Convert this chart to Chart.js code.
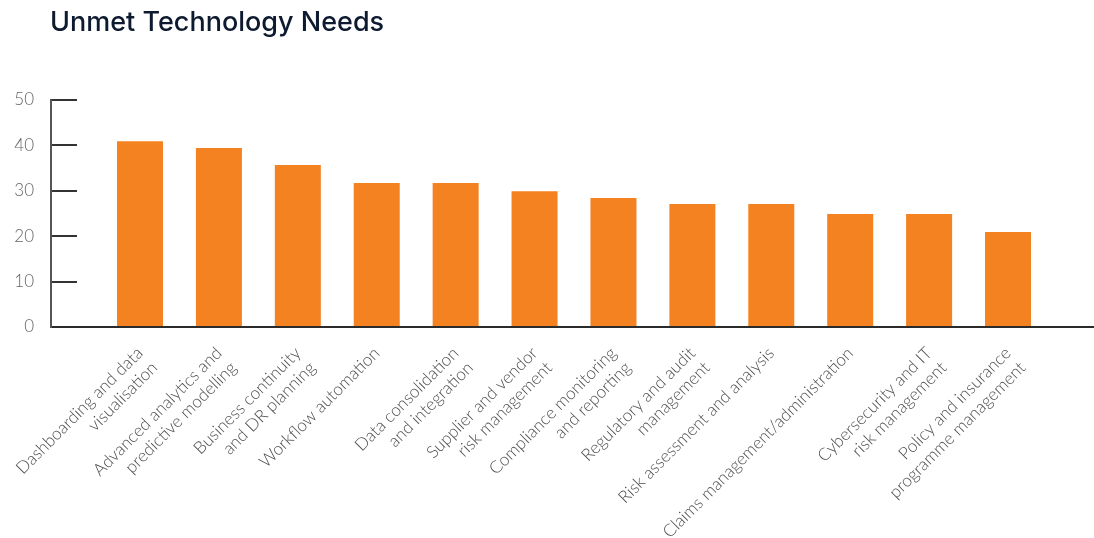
<!DOCTYPE html>
<html>
<head>
<meta charset="utf-8">
<title>Unmet Technology Needs</title>
<script src="https://cdn.jsdelivr.net/npm/chart.js@4.4.1/dist/chart.umd.min.js"></script>
<style>
  html, body { margin: 0; padding: 0; background: #ffffff; }
  #wrap { width: 1094px; height: 538px; position: relative; }
</style>
</head>
<body>
<div id="wrap"><canvas id="chart"></canvas></div>
<script>
// Categories (multi-line labels) and the share of respondents citing each need
const categories = [
  ['Dashboarding and data', 'visualisation'],
  ['Advanced analytics and', 'predictive modelling'],
  ['Business continuity', 'and DR planning'],
  ['Workflow automation'],
  ['Data consolidation', 'and integration'],
  ['Supplier and vendor', 'risk management'],
  ['Compliance monitoring', 'and reporting'],
  ['Regulatory and audit', 'management'],
  ['Risk assessment and analysis'],
  ['Claims management/administration'],
  ['Cybersecurity and IT', 'risk management'],
  ['Policy and insurance', 'programme management']
];
const needValues = [40.9, 39.4, 35.7, 31.7, 31.7, 29.9, 28.4, 27.1, 27.1, 24.9, 24.9, 20.9];
const yTicks = [0, 10, 20, 30, 40, 50];

// Bars sit on a numeric index axis so the axes can run past the first and last bar
const points = needValues.map((v, i) => ({ x: i, y: v }));

// Indent the title to line up with the plot instead of the canvas edge
const titleIndent = {
  id: 'titleIndent',
  afterLayout(chart, args, opts) {
    if (chart.titleBlock) chart.titleBlock.left = opts.left;
  }
};

new Chart(document.getElementById('chart'), {
  type: 'bar',
  plugins: [titleIndent],
  data: {
    datasets: [{
      data: points,
      backgroundColor: '#F48221',
      borderWidth: 0,
      categoryPercentage: 1,
      barPercentage: 0.583
    }]
  },
  options: {
    responsive: true,
    maintainAspectRatio: false,
    animation: false,
    layout: { padding: { left: 0, right: 1, top: 0, bottom: 0 } },
    plugins: {
      legend: { display: false },
      tooltip: { enabled: false },
      titleIndent: { left: 50 },
      title: {
        display: true,
        text: 'Unmet Technology Needs',
        align: 'start',
        color: '#0E1A2F',
        font: { family: 'Inter', size: 27, weight: '500', lineHeight: 1.2 },
        padding: { top: 7, bottom: 60.6 }
      }
    },
    scales: {
      x: {
        type: 'linear',
        min: -1.128,
        max: 12.077,
        offset: false,
        grid: { display: false, drawTicks: false },
        border: { display: true, color: '#2b2b2b', width: 2 },
        afterFit: (scale) => {
          scale.height = 211;
          scale.paddingLeft = 0;
          scale.paddingRight = 0;
        },
        ticks: {
          stepSize: 1,
          includeBounds: false,
          autoSkip: false,
          maxTicksLimit: 30,
          minRotation: 45,
          maxRotation: 45,
          padding: 16,
          color: '#505050',
          font: { family: 'Lato', size: 17.2, weight: '300', lineHeight: 1.2 },
          callback: (value) => {
            const i = Math.round(value);
            return (Math.abs(value - i) < 1e-6 && categories[i]) ? categories[i] : '';
          }
        }
      },
      y: {
        min: 0,
        max: 50,
        afterFit: (scale) => { scale.width = 51; },
        afterBuildTicks: (scale) => { scale.ticks = yTicks.map(v => ({ value: v })); },
        grid: {
          drawOnChartArea: false,
          drawTicks: true,
          tickLength: -26,
          color: '#333333',
          lineWidth: 2
        },
        border: { display: true, color: '#555555', width: 2 },
        ticks: {
          padding: 43,
          color: '#666666',
          font: { family: 'Lato', size: 17, weight: '300' }
        }
      }
    }
  }
});
</script>
</body>
</html>
